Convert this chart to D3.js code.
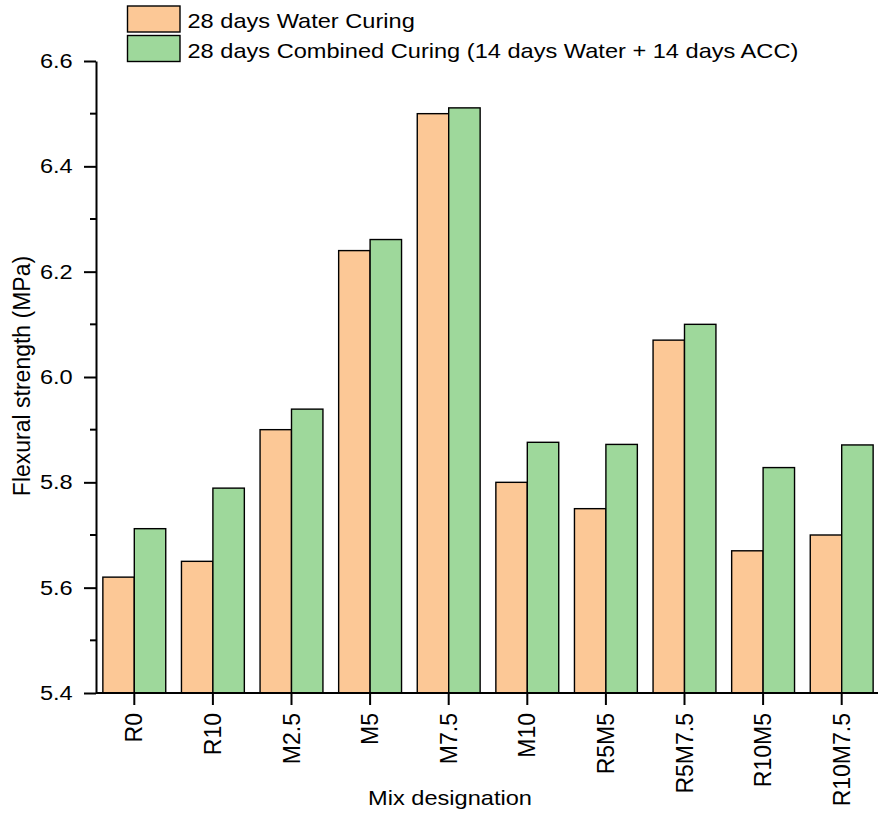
<!DOCTYPE html>
<html>
<head>
<meta charset="utf-8">
<script src="https://cdn.jsdelivr.net/npm/d3@7"></script>
<style>
  body { margin: 0; background: #fff; }
  svg { display: block; font-family: "Liberation Sans", Arial, sans-serif; }
</style>
</head>
<body>
<svg id="chart" width="878" height="813"></svg>
<script>
const categories = ["R0", "R10", "M2.5", "M5", "M7.5", "M10", "R5M5", "R5M7.5", "R10M5", "R10M7.5"];
const seriesNames = ["28 days Water Curing", "28 days Combined Curing (14 days Water + 14 days ACC)"];
const waterCuring = [5.62, 5.65, 5.90, 6.24, 6.50, 5.80, 5.75, 6.07, 5.67, 5.70];
const combinedCuring = [5.712, 5.789, 5.939, 6.261, 6.511, 5.876, 5.872, 6.10, 5.828, 5.871];
const yTicks = [5.4, 5.6, 5.8, 6.0, 6.2, 6.4, 6.6];
const yMinorTicks = [5.5, 5.7, 5.9, 6.1, 6.3, 6.5];
const colors = ["#FCC896", "#9ED89B"];

(function () {
const svg = d3.select("#chart");
const pLeft = 96, pRight = 882, pTop = 61, pBottom = 693;
const hSize = 23.6, vScale = 0.88, rotSize = 23;

const x = d3.scaleBand().domain(categories).range([pLeft - 1, pRight - 1]).paddingInner(0.2).paddingOuter(0.1);
const xs = d3.scaleBand().domain([0, 1]).range([0, x.bandwidth()]);
const y = d3.scaleLinear().domain([5.4, 6.6]).range([pBottom, pTop]);

const series = [waterCuring, combinedCuring];

// bars
series.forEach((vals, si) => {
  svg.append("g").selectAll("rect")
    .data(categories.map((c, i) => ({ c, v: vals[i] })))
    .join("rect")
    .attr("x", d => x(d.c) + xs(si))
    .attr("y", d => y(d.v))
    .attr("width", xs.bandwidth())
    .attr("height", d => pBottom - y(d.v))
    .attr("fill", colors[si])
    .attr("stroke", "#000")
    .attr("stroke-width", 1.4);
});

// y axis
const yAxis = svg.append("g").attr("transform", `translate(${pLeft},0)`)
  .call(d3.axisLeft(y).tickValues(yTicks).tickFormat(d3.format(".1f")).tickSize(12).tickSizeOuter(0).tickPadding(11.3));
yAxis.select(".domain").attr("stroke-width", 2);
yAxis.selectAll(".tick line").attr("stroke-width", 2);
yAxis.selectAll(".tick text").attr("font-size", hSize).attr("fill", "#000")
  .attr("transform", `scale(1,${vScale})`);
svg.append("g").attr("transform", `translate(${pLeft},0)`)
  .selectAll("line").data(yMinorTicks).join("line")
  .attr("x1", -6).attr("x2", 0).attr("y1", d => y(d)).attr("y2", d => y(d))
  .attr("stroke", "#000").attr("stroke-width", 2);

// x axis
const xAxis = svg.append("g").attr("transform", `translate(0,${pBottom})`)
  .call(d3.axisBottom(x).tickSize(12).tickSizeOuter(0).tickPadding(8));
xAxis.select(".domain").attr("d", `M${pLeft},0H878`).attr("stroke-width", 2);
xAxis.selectAll(".tick line").attr("stroke-width", 2);
xAxis.selectAll(".tick text")
  .attr("font-size", rotSize).attr("fill", "#000")
  .attr("transform", "rotate(-90)")
  .attr("text-anchor", "end")
  .attr("x", -20).attr("y", 0).attr("dy", "0.35em");

// axis titles
svg.append("text").attr("transform", `translate(450,805) scale(1,${vScale})`).attr("text-anchor", "middle")
  .attr("font-size", hSize).text("Mix designation");
svg.append("text").attr("transform", `translate(29.5,${(pTop + pBottom) / 2 - 1}) rotate(-90)`)
  .attr("text-anchor", "middle").attr("font-size", rotSize).text("Flexural strength (MPa)");

// legend
const legend = svg.append("g");
seriesNames.forEach((name, i) => {
  const ly = 6 + i * 29.5;
  legend.append("rect").attr("x", 127.5).attr("y", ly).attr("width", 52.5).attr("height", 26)
    .attr("fill", colors[i]).attr("stroke", "#000").attr("stroke-width", 1.4);
  legend.append("text").attr("transform", `translate(187.5,${ly + 22.3}) scale(1,${vScale})`)
    .attr("font-size", hSize).text(name);
});
})();
</script>
</body>
</html>
